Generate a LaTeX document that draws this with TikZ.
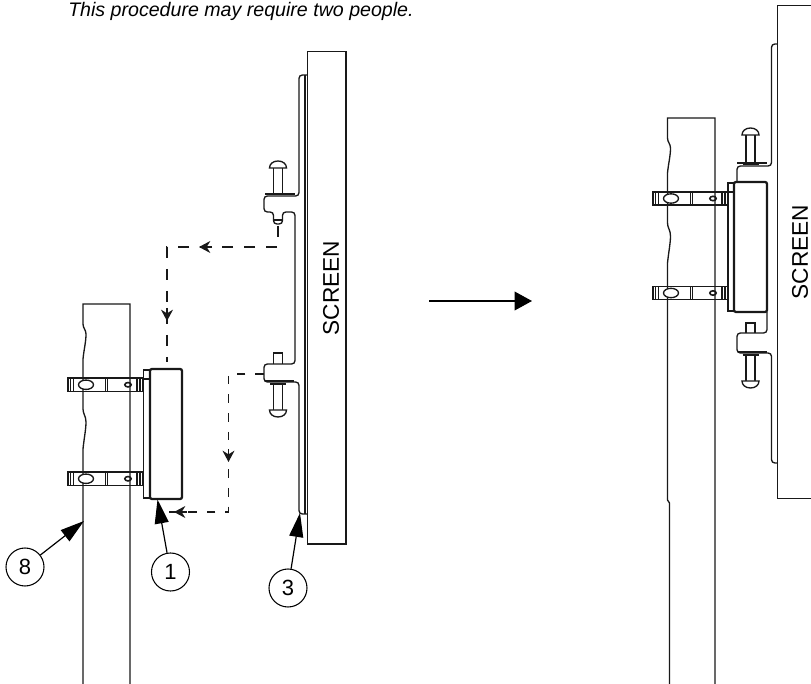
\documentclass[tikz,border=0pt]{standalone}
\usepackage{fontspec}
\setmainfont{Liberation Sans}
\usetikzlibrary{arrows.meta}
\tikzset{
	part/.style={line width=1pt, color=black!90},
	heavy/.style={line width=1.7pt, color=black!90, rounded corners=1.5pt},
	plate/.style={line width=1pt, color=black!90, rounded corners=2.5pt},
	movelong/.style={line width=1pt, color=black!90, dash pattern=on 8.5pt off 8pt},
	moveshort/.style={line width=1pt, color=black!90, dash pattern=on 6.5pt off 7.5pt},
	movetip/.style={line width=1pt, color=black!90, -{Stealth[length=8.5pt, width=9pt]}},
	callout/.style={circle, draw, line width=0.8pt, minimum size=28.5pt, inner sep=0pt, font=\fontsize{16.5}{16.5}\selectfont},
	leader/.style={line width=0.9pt, -{Triangle[length=18pt, width=10.5pt]}},
	screenlabel/.style={rotate=90, font=\fontsize{17}{17}\selectfont}
}
% strap across the pole, #1 left end, #2 top edge, #3 height
\def\strap(#1, #2, #3){
	\begin{scope}[shift={(#1, #2)}]
		\draw[part, line width=1.3pt] (0, 0) rectangle (75, #3);
		\foreach \xa in {2.5, 5.5, 37.5, 39.5, 69, 72}
			\draw[part] (\xa, 0) -- (\xa, #3);
		\draw[part, fill=white] (18, 0.5*#3) ellipse (7.5 and 4.7);
		\draw[part, line width=1.2pt] (60, 0.5*#3) ellipse (3.2 and 2.2);
	\end{scope}
}
% pole with broken left edge, #1 left edge, #2 top, #3 width
\def\pole(#1, #2, #3){
	\begin{scope}[shift={(#1, #2)}]
		\draw[part] (0, 380) -- (0, 145) .. controls (1, 135) and (3, 125) .. (3, 118) .. controls (3, 112) and (0, 110) .. (0, 105) -- (0, 55) .. controls (1, 45) and (3, 38) .. (3, 30) .. controls (3, 26) and (0, 24) .. (0, 20) -- (0, 0) -- (#3, 0) -- (#3, 600);
		\draw[part] (0, 380) -- (0, 382) -- (2, 385) -- (2, 600);
	\end{scope}
}
% bolt standing on the plate, #1 centre, #2 plate, #3 direction, #4 shaft
\def\bolt(#1, #2, #3, #4){
	\begin{scope}[shift={(#1, #2)}, yscale=#3]
		\draw[part, line width=1.4pt] (-8, -2) -- (8, -2);
		\draw[part] (-4.5, -3) -- (-4.5, -3-#4) (4.5, -3) -- (4.5, -3-#4);
		\draw[part, fill=white] (-8.5, -3-#4) .. controls (-8.5, -7-#4) and (-5, -10-#4) .. (0, -10-#4) .. controls (5, -10-#4) and (8.5, -7-#4) .. (8.5, -3-#4) -- cycle;
	\end{scope}
}

\begin{document}
\begin{tikzpicture}[x=0.75pt, y=-0.75pt]
	\useasboundingbox (0, 0) rectangle (811, 684);
	%%%%% START %%%%%

	\node[anchor=base west, inner sep=0pt, font=\fontsize{14.7}{15}\selectfont\itshape] (notice) at (68, 16.5) {This procedure may require two people.};

	%%%%% left: pole and clamp
	\pole(83, 304, 47);
	\strap(68, 378, 13.5);
	\strap(68, 472, 13.5);
	\draw[part] (143.5, 370) rectangle (150, 498);
	\draw[part] (143.5, 379) -- (150, 379);
	\draw[heavy, fill=white] (150, 369) rectangle (182, 499);

	%%%%% left: screen and plate
	\draw[part] (307.5, 51.5) rectangle (346, 544);
	\draw[part] (305, 75) -- (305, 514);
	\draw[plate] (307.5, 75) -- (299, 75) -- (299, 196) -- (264, 196) -- (264, 212) -- (273.5, 212) -- (273.5, 224) -- (282.5, 224) -- (282.5, 212) -- (295, 212) -- (295, 364) -- (264, 364) -- (264, 382) -- (299, 382) -- (299, 514) -- (307.5, 514);
	\draw[part] (273.5, 220) -- (282.5, 220);
	\draw[part, line width=1.4pt] (265, 381) -- (294, 381);
	\draw[part] (265, 194) -- (295, 194);
	\draw[part] (273.5, 364) -- (273.5, 353) -- (282.5, 353) -- (282.5, 364);
	\bolt(278, 196, 1, 25);
	\bolt(278, 382, -1, 25);
	\node[screenlabel] (screenleft) at (331, 288) {SCREEN};

	%%%%% left: moves
	\draw[movelong] (278, 226) -- (278, 247) -- (167, 247) -- (167, 362);
	\draw[movetip] (212, 247) -- (199, 247);
	\draw[movetip] (167, 308) -- (167, 321);
	\draw[moveshort] (264, 374) -- (228.5, 374) -- (228.5, 512) -- (165, 512);
	\draw[movetip] (228.5, 449) -- (228.5, 462);
	\draw[movetip] (187, 512) -- (174, 512);

	%%%%% callouts
	\coordinate (tipeight) at (84, 521);
	\coordinate (tipone) at (157.5, 499.5);
	\coordinate (tipthree) at (300, 513);
	\node[callout] (eight) at (25, 567) {8};
	\node[callout] (one) at (170.5, 572) {1};
	\node[callout] (three) at (288, 588) {3};
	\draw[leader] (eight) -- (tipeight);
	\draw[leader] (one) -- (tipone);
	\draw[leader] (three) -- (tipthree);

	%%%%% big arrow
	\coordinate (arrowstart) at (429, 301);
	\coordinate (arrowend) at (532, 301);
	\draw[line width=1pt, -{Triangle[length=13pt, width=14pt]}] (arrowstart) -- (arrowend);

	%%%%% right: pole and clamp
	\pole(667.5, 118, 47.5);
	\strap(653, 192, 13);
	\strap(653, 286.5, 13);
	\draw[part] (728, 183) rectangle (734, 311);
	\draw[part] (728, 192) -- (734, 192);
	\draw[heavy, fill=white] (734, 182) rectangle (767, 312);

	%%%%% right: screen and plate
	\draw[part] (815, 5.5) -- (777.5, 5.5) -- (777.5, 498.7) -- (815, 498.7);
	\draw[plate] (777.5, 44) -- (771.5, 44) -- (771.5, 166) -- (737, 166) -- (737, 182);
	\draw[part] (737, 163) -- (767, 163);
	\draw[plate] (767, 312) -- (767, 333) -- (737, 333) -- (737, 353) -- (771.5, 353) -- (771.5, 463) -- (777.5, 463);
	\draw[part, line width=1.4pt] (738, 352) -- (767, 352);
	\draw[part] (746, 333) -- (746, 323) -- (755, 323) -- (755, 333);
	\bolt(750.5, 166, 1, 28);
	\bolt(750.5, 353, -1, 25);
	\node[screenlabel] (screenright) at (800, 252) {SCREEN};

	%%%%% END %%%%%
\end{tikzpicture}
\end{document}
